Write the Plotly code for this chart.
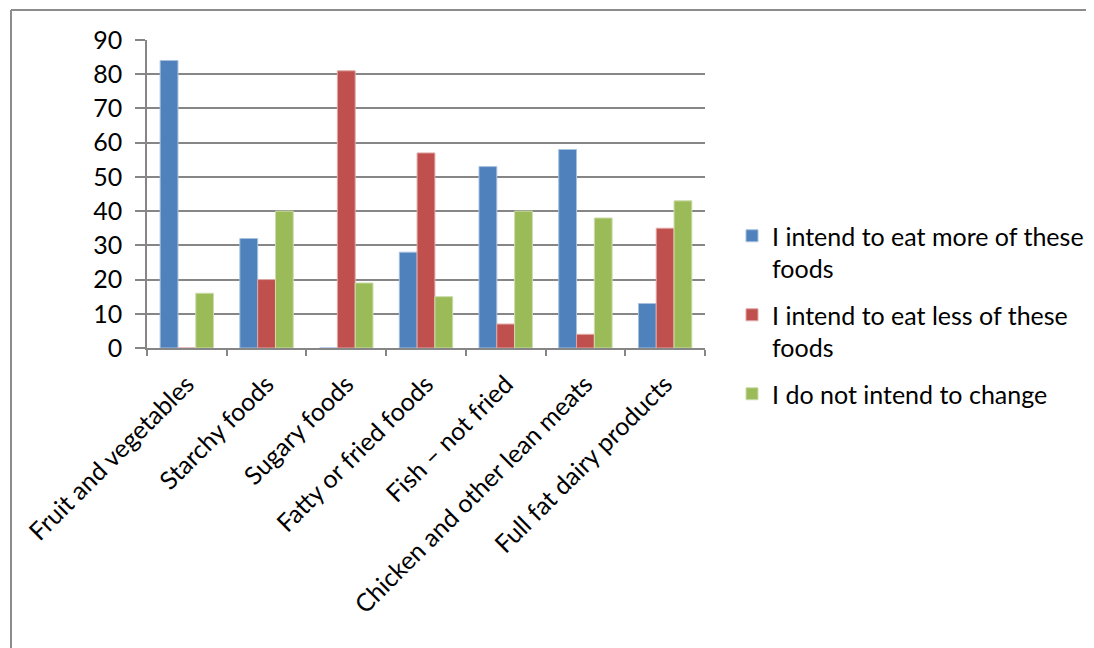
import plotly.graph_objects as go

categories = ["Fruit and vegetables", "Starchy foods", "Sugary foods", "Fatty or fried foods",
              "Fish – not fried", "Chicken and other lean meats", "Full fat dairy products"]
more = [84, 32, 0, 28, 53, 58, 13]
less = [0, 20, 81, 57, 7, 4, 35]
nochange = [16, 40, 19, 15, 40, 38, 43]
series_names = ["I intend to eat more of these<br>foods",
                "I intend to eat less of these<br>foods",
                "I do not intend to change"]
colors = ["#4F81BD", "#C0504D", "#9BBB59"]
edge = ["#a7c0de", "#dfa8a6", "#cddcac"]

FONT = "Lato"
FS = 25
fig = go.Figure()
for i, (name, vals) in enumerate(zip(series_names, [more, less, nochange])):
    fig.add_trace(go.Bar(x=categories, y=vals, name=name, legendgroup=str(i),
                         marker=dict(color=colors[i], line=dict(color=edge[i], width=1))))

W, H = 1094, 648
OFF = 8  # page body margin
L, R, T, B = 147, 705, 40, 348
fig.update_layout(
    width=W, height=H,
    margin=dict(l=L - OFF, r=W - (R - OFF), t=T - OFF, b=H - (B - OFF), autoexpand=False),
    paper_bgcolor="white", plot_bgcolor="white",
    barmode="group", bargap=0.33, bargroupgap=0,
    font=dict(family=FONT, size=FS, color="black"),
    showlegend=True,
    legend=dict(x=(732 - L) / (R - L), y=(B - 213) / (B - T), xanchor="left", yanchor="top",
                valign="top", tracegroupgap=11, font=dict(size=FS, family=FONT),
                bgcolor="rgba(0,0,0,0)"),
    xaxis=dict(showline=True, linecolor="#868686", linewidth=1.5, ticks="outside",
               tickson="boundaries", ticklen=6, tickcolor="#868686", tickwidth=1.5,
               ticklabelstandoff=10,
               tickangle=-45, tickfont=dict(size=FS, family=FONT), showgrid=False),
    yaxis=dict(range=[0, 90], dtick=10, showline=True, linecolor="#868686", linewidth=1.5,
               ticks="outside", ticklen=10, tickcolor="#868686", tickwidth=1.5,
               ticklabelstandoff=8,
               showgrid=True, gridcolor="#868686", gridwidth=1.5, zeroline=False,
               tickfont=dict(size=FS, family=FONT)),
    shapes=[
        dict(type="line", xref="paper", yref="paper",
             x0=(11 - L) / (R - L), x1=(11 - L) / (R - L), y0=(B - 10) / (B - T), y1=(B - 660) / (B - T),
             line=dict(color="#8c8c8c", width=2)),
        dict(type="line", xref="paper", yref="paper",
             x0=(11 - L) / (R - L), x1=(1100 - L) / (R - L), y0=(B - 10) / (B - T), y1=(B - 10) / (B - T),
             line=dict(color="#8c8c8c", width=2)),
    ],
)
fig.write_html("out.html")
